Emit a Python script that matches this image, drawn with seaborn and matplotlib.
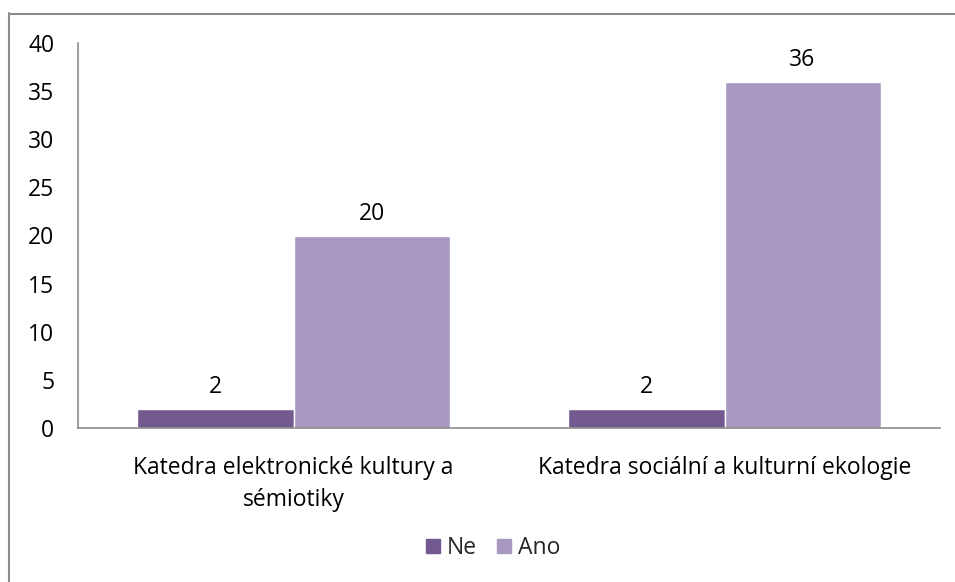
import matplotlib
matplotlib.use("Agg")
import matplotlib.pyplot as plt
import seaborn as sns
import pandas as pd
from matplotlib.lines import Line2D

categories = ["Katedra elektronické kultury a\nsémiotiky", "Katedra sociální a kulturní ekologie"]
series = ["Ne", "Ano"]
ne_values = [2, 2]
ano_values = [20, 36]
yticks = [0, 5, 10, 15, 20, 25, 30, 35, 40]
colors = ["#725A91", "#A899C1"]

df = pd.DataFrame({
    "cat": categories * 2,
    "series": [series[0]] * 2 + [series[1]] * 2,
    "value": ne_values + ano_values,
})

sns.set_theme(style="white")
plt.rcParams["font.family"] = ["Open Sans", "DejaVu Sans"]
FS = 16.5

fig = plt.figure(figsize=(9.55, 5.82), dpi=100)
ax = fig.add_axes([78/955, 1-428/582, (940-78)/955, (428-43)/582])

sns.barplot(data=df, x="cat", y="value", hue="series", hue_order=series,
            palette=colors, width=0.724, saturation=1, ax=ax, legend=False)

for c in ax.containers:
    ax.bar_label(c, padding=7, fontsize=FS, color="#000000")

ax.set_ylim(0, 40)
ax.set_yticks(yticks)
ax.set_yticklabels([str(t) for t in yticks], fontsize=FS, color="#000000")
ax.tick_params(axis="y", length=0, pad=17)
ax.set_xticks(range(len(categories)))
ax.set_xticklabels(categories, fontsize=FS, color="#000000",
                   multialignment="center", linespacing=1.45)
ax.tick_params(axis="x", length=0, pad=20)
ax.set_xlabel("")
ax.set_ylabel("")
for s in ["top", "right"]:
    ax.spines[s].set_visible(False)
for s in ["left", "bottom"]:
    ax.spines[s].set_color("#8C8C8C")
    ax.spines[s].set_linewidth(1.2)
ax.set_xlim(-0.5, 1.5)

handles = [plt.Rectangle((0, 0), 1, 1, color=colors[i]) for i in range(2)]
fig.legend(handles, series, loc="center", bbox_to_anchor=(493/955, 1-548/582),
           ncol=2, frameon=False, fontsize=FS, handlelength=0.6, handleheight=0.6,
           handletextpad=0.3, columnspacing=0.9)

# outer frame (left and top visible)
fig.add_artist(Line2D([8.5/955, 8.5/955], [0, 1-13/582], transform=fig.transFigure,
                      color="#8C8C8C", linewidth=1.5))
fig.add_artist(Line2D([8.5/955, 1], [1-13.5/582, 1-13.5/582], transform=fig.transFigure,
                      color="#8C8C8C", linewidth=1.5))

fig.savefig("out.png", dpi=100)
